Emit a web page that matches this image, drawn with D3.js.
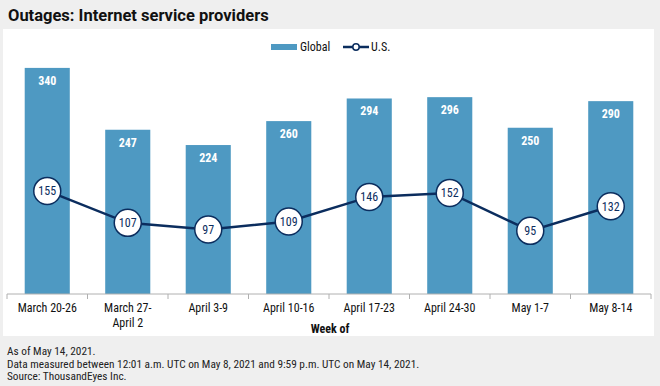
<!DOCTYPE html>
<html><head><meta charset="utf-8">
<script src="https://cdn.jsdelivr.net/npm/d3@7"></script>
<style>
html,body{margin:0;padding:0;background:#efefef;}
svg{display:block;}
text{font-family:"Roboto Condensed","Roboto",sans-serif;}
</style></head>
<body>
<svg id="c" width="660" height="386"></svg>
<script>
const weeks = [["March 20-26"],["March 27-","April 2"],["April 3-9"],["April 10-16"],["April 17-23"],["April 24-30"],["May 1-7"],["May 8-14"]];
const globalVals = [340,247,224,260,294,296,250,290];
const usVals = [155,107,97,109,146,152,95,132];
const seriesNames = ["Global","U.S."];
const title = "Outages: Internet service providers";
const xTitle = "Week of";
const notes = ["As of May 14, 2021.","Data measured between 12:01 a.m. UTC on May 8, 2021 and 9:59 p.m. UTC on May 14, 2021.","Source: ThousandEyes Inc."];

const barColor = "#4e99c2", lineColor = "#0b2d5e";
const svg = d3.select("#c");
svg.append("rect").attr("x",0).attr("y",0).attr("width",660).attr("height",386).attr("fill","#efefef");
svg.append("text").attr("x",8).attr("y",21).text(title)
  .attr("font-size",16.5).attr("font-weight","bold").attr("fill","#111")
  .style("font-family","'Roboto',sans-serif");
svg.append("rect").attr("x",3).attr("y",29).attr("width",651).attr("height",307).attr("fill","#fff");

const ids = d3.range(weeks.length);
const x = d3.scaleBand().domain(ids).range([7,651]).paddingInner(0.44).paddingOuter(0.22);
const y = d3.scaleLinear().domain([0,400]).range([294,28]);

// bars
svg.append("g").selectAll("rect").data(ids).join("rect")
  .attr("x",i=>x(i)).attr("width",x.bandwidth())
  .attr("y",i=>y(globalVals[i])).attr("height",i=>y(0)-y(globalVals[i]))
  .attr("fill",barColor);
svg.append("g").selectAll("text").data(ids).join("text")
  .attr("x",i=>x(i)+x.bandwidth()/2).attr("y",i=>y(globalVals[i])+17)
  .attr("text-anchor","middle").attr("fill","#fff").attr("font-size",12).attr("font-weight","bold")
  .text(i=>globalVals[i]);

// axis
const xb = d3.scaleBand().domain(ids).range([7,651]);
const axisG = svg.append("g");
axisG.append("line").attr("x1",7).attr("x2",651).attr("y1",294).attr("y2",294).attr("stroke","#b0b0b0").attr("stroke-width",1);
axisG.selectAll("line.t").data(d3.range(weeks.length+1)).join("line").attr("class","t")
  .attr("x1",i=>i<weeks.length?xb(i):651).attr("x2",i=>i<weeks.length?xb(i):651)
  .attr("y1",294).attr("y2",299).attr("stroke","#b0b0b0");
const lab = axisG.selectAll("text.l").data(ids).join("text").attr("class","l")
  .attr("text-anchor","middle").attr("font-size",12).attr("fill","#111")
  .attr("x",i=>xb(i)+xb.bandwidth()/2).attr("y",312);
lab.each(function(i){
  const t=d3.select(this);
  weeks[i].forEach((s,k)=>t.append("tspan").attr("x",xb(i)+xb.bandwidth()/2).attr("dy",k?15:0).text(s));
});
svg.append("text").attr("x",330).attr("y",333).attr("text-anchor","middle")
  .attr("font-size",12).attr("font-weight","bold").attr("fill","#111").text(xTitle);

// line
const cx = i=>x(i)+x.bandwidth()/2;
svg.append("path").datum(ids)
  .attr("d",d3.line().x(cx).y(i=>y(usVals[i])))
  .attr("fill","none").attr("stroke",lineColor).attr("stroke-width",2.5);
svg.append("g").selectAll("circle").data(ids).join("circle")
  .attr("cx",cx).attr("cy",i=>y(usVals[i])).attr("r",13.5)
  .attr("fill","#fff").attr("stroke",lineColor).attr("stroke-width",1.5);
svg.append("g").selectAll("text").data(ids).join("text")
  .attr("x",cx).attr("y",i=>y(usVals[i])+4.5).attr("text-anchor","middle")
  .attr("font-size",12).attr("fill",lineColor).text(i=>usVals[i]);

// legend
const lg = svg.append("g");
lg.append("rect").attr("x",271).attr("y",44).attr("width",26).attr("height",6).attr("fill",barColor);
lg.append("text").attr("x",300).attr("y",51).attr("font-size",12).attr("fill","#111").text(seriesNames[0]);
lg.append("line").attr("x1",343).attr("x2",369).attr("y1",47).attr("y2",47).attr("stroke",lineColor).attr("stroke-width",2.5);
lg.append("circle").attr("cx",356).attr("cy",47).attr("r",3.2).attr("fill","#fff").attr("stroke",lineColor).attr("stroke-width",1.5);
lg.append("text").attr("x",371).attr("y",51).attr("font-size",12).attr("fill","#111").text(seriesNames[1]);

// notes
svg.append("g").selectAll("text").data(notes).join("text")
  .attr("x",7).attr("y",(d,i)=>355+i*12.5).attr("font-size",11.3).attr("fill","#222").text(d=>d);
</script>
</body></html>
